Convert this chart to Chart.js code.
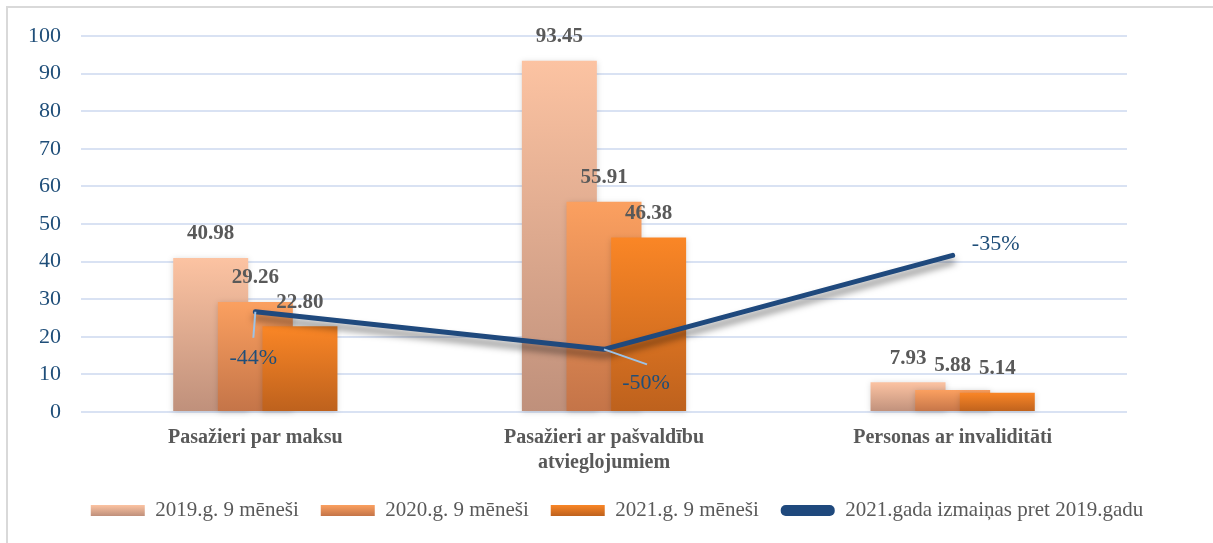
<!DOCTYPE html>
<html lang="lv">
<head>
<meta charset="utf-8">
<title>Pasažieri 2019-2021</title>
<script src="https://cdn.jsdelivr.net/npm/chart.js@4.4.1/dist/chart.umd.min.js"></script>
<style>
  html, body { margin: 0; padding: 0; background: #fff; overflow: hidden; }
  .frame {
    position: absolute; left: 6px; top: 6px; width: 1230px; height: 560px;
    border: 2px solid #d9d9d9; box-sizing: border-box;
  }
  .wrap { position: absolute; left: 0; top: 0; width: 1213px; height: 543px; }
</style>
</head>
<body>
<div class="frame"></div>
<div class="wrap"><canvas id="chart" width="1213" height="543"></canvas></div>
<script>
// Dati
const categories = [
  "Pasažieri par maksu",
  ["Pasažieri ar pašvaldību", "atvieglojumiem"],
  "Personas ar invaliditāti",
];
const seriesNames = ["2019.g. 9 mēneši", "2020.g. 9 mēneši", "2021.g. 9 mēneši"];
const values2019 = [40.98, 93.45, 7.93];
const values2020 = [29.26, 55.91, 5.88];
const values2021 = [22.8, 46.38, 5.14];
const changeName = "2021.gada izmaiņas pret 2019.gadu";
const changeValues = [-44, -50, -35];

// Stili
const FONT = "'Liberation Serif', 'Times New Roman', serif";
const barGradients = [
  ["#fcc3a2", "#bf907b"],
  ["#fba060", "#c47448"],
  ["#fa8626", "#bd611d"],
];
const lineColor = "#1f497d";
const axisBlue = "#1f4e79";
const textGrey = "#595959";

// gradients katram stabiņam (no augšas uz leju)
function barFill(seriesIndex) {
  return (ctx) => {
    const [top, bottom] = barGradients[seriesIndex];
    if (ctx.type !== "data") return top;
    const yScale = ctx.chart.scales.y;
    const yTop = yScale.getPixelForValue(ctx.raw);
    const yBottom = yScale.getPixelForValue(0);
    if (!isFinite(yTop) || yBottom - yTop < 1) return top;
    const g = ctx.chart.ctx.createLinearGradient(0, yTop, 0, yBottom);
    g.addColorStop(0, top);
    g.addColorStop(1, bottom);
    return g;
  };
}

function barDataset(name, data, idx) {
  return {
    type: "bar",
    label: name,
    data: data,
    backgroundColor: barFill(idx),
    borderWidth: 0,
    barPercentage: 1.68,
    categoryPercentage: 0.384,
    yAxisID: "y",
  };
}

// Zīmēšanas secība: 2019 apakšā, 2021 virsū, līnija pāri visam
const drawOrderPlugin = {
  id: "drawOrder",
  beforeDatasetsDraw(chart) {
    const ctx = chart.ctx;
    [0, 1, 2].forEach((i) => {
      ctx.save();
      ctx.shadowColor = "rgba(0,0,0,0.16)";
      ctx.shadowBlur = 6;
      ctx.shadowOffsetY = 1;
      chart.getDatasetMeta(i).controller.draw();
      ctx.restore();
    });
    ctx.save();
    ctx.shadowColor = "rgba(0,0,0,0.5)";
    ctx.shadowBlur = 7;
    ctx.shadowOffsetY = 6;
    chart.getDatasetMeta(3).controller.draw();
    ctx.restore();
    return false;
  },
};

// Leģendas kvadrātiņiem arī gradients
const legendFillPlugin = {
  id: "legendFill",
  beforeDraw(chart) {
    const legend = chart.legend;
    if (!legend || !legend.legendItems) return;
    const boxH = legend.options.labels.boxHeight;
    legend.legendItems.forEach((item, i) => {
      const hb = legend.legendHitBoxes[i];
      if (!hb || item.datasetIndex > 2) return;
      const y0 = hb.top + (hb.height - boxH) / 2;
      const [top, bottom] = barGradients[item.datasetIndex];
      const g = chart.ctx.createLinearGradient(0, y0, 0, y0 + boxH);
      g.addColorStop(0, top);
      g.addColorStop(1, bottom);
      item.fillStyle = g;
    });
  },
};

// Datu etiķetes
const valueLabelsPlugin = {
  id: "valueLabels",
  afterDraw(chart, args, opts) {
    const ctx = chart.ctx;
    ctx.save();
    ctx.textAlign = "center";
    ctx.textBaseline = "middle";

    // stabiņu vērtības
    ctx.font = "bold 21px " + FONT;
    ctx.fillStyle = textGrey;
    [0, 1, 2].forEach((di) => {
      const meta = chart.getDatasetMeta(di);
      meta.data.forEach((bar, i) => {
        const v = chart.data.datasets[di].data[i];
        ctx.fillText(v.toFixed(2), bar.x, bar.y - 24);
      });
    });

    // izmaiņas procentos
    const lineMeta = chart.getDatasetMeta(3);
    ctx.font = "22px " + FONT;
    lineMeta.data.forEach((pt, i) => {
      const off = opts.labelOffsets[i];
      const lead = opts.leaders[i];
      if (lead) {
        ctx.strokeStyle = "#9dc3e6";
        ctx.lineWidth = 2;
        ctx.beginPath();
        ctx.moveTo(pt.x, pt.y);
        ctx.lineTo(pt.x + lead[0], pt.y + lead[1]);
        ctx.stroke();
      }
      ctx.fillStyle = axisBlue;
      ctx.fillText(changeValues[i] + "%", pt.x + off[0], pt.y + off[1]);
    });
    ctx.restore();
  },
};

const chart = new Chart(document.getElementById("chart"), {
  data: {
    labels: categories,
    datasets: [
      barDataset(seriesNames[0], values2019, 0),
      barDataset(seriesNames[1], values2020, 1),
      barDataset(seriesNames[2], values2021, 2),
      {
        type: "line",
        label: changeName,
        data: changeValues,
        borderColor: lineColor,
        backgroundColor: lineColor,
        borderWidth: 5,
        borderCapStyle: "round",
        borderJoinStyle: "round",
        pointRadius: 0,
        tension: 0,
        yAxisID: "y1",
      },
    ],
  },
  options: {
    responsive: false,
    animation: false,
    layout: { padding: { left: 21, right: 0, top: 36, bottom: 12 } },
    plugins: {
      tooltip: { enabled: false },
      legend: {
        position: "bottom",
        labels: {
          boxWidth: 54,
          boxHeight: 11,
          padding: 22,
          color: textGrey,
          useBorderRadius: true,
          font: { family: FONT, size: 21 },
          generateLabels(chart) {
            const items = Chart.defaults.plugins.legend.labels.generateLabels(chart);
            items.forEach((it) => {
              it.lineWidth = 0;
              it.borderRadius = it.datasetIndex === 3 ? 5 : 0;
            });
            return items;
          },
        },
      },
      valueLabels: {
        labelOffsets: [[-2, 46], [42, 34], [43, -11]],
        leaders: [[-2, 26], [43, 15], null],
      },
    },
    scales: {
      x: {
        grid: { display: false, drawTicks: false },
        border: { display: false },
        ticks: {
          color: textGrey,
          padding: 13,
          maxRotation: 0,
          autoSkip: false,
          font: { family: FONT, size: 20, weight: "bold", lineHeight: 1.25 },
        },
        afterFit(scale) {
          scale.height = 66;
        },
      },
      y: {
        min: 0,
        max: 100,
        ticks: {
          stepSize: 10,
          padding: 20,
          color: axisBlue,
          font: { family: FONT, size: 22 },
        },
        grid: { color: "#d9e2f3", lineWidth: 2, drawTicks: false },
        border: { display: false },
        afterFit(scale) {
          scale.width = 60;
        },
      },
      y1: {
        position: "right",
        min: -60,
        max: 0,
        ticks: { display: false },
        grid: { display: false, drawTicks: false },
        border: { display: false },
        afterFit(scale) {
          scale.width = 86;
        },
      },
    },
  },
  plugins: [drawOrderPlugin, legendFillPlugin, valueLabelsPlugin],
});
</script>
</body>
</html>
